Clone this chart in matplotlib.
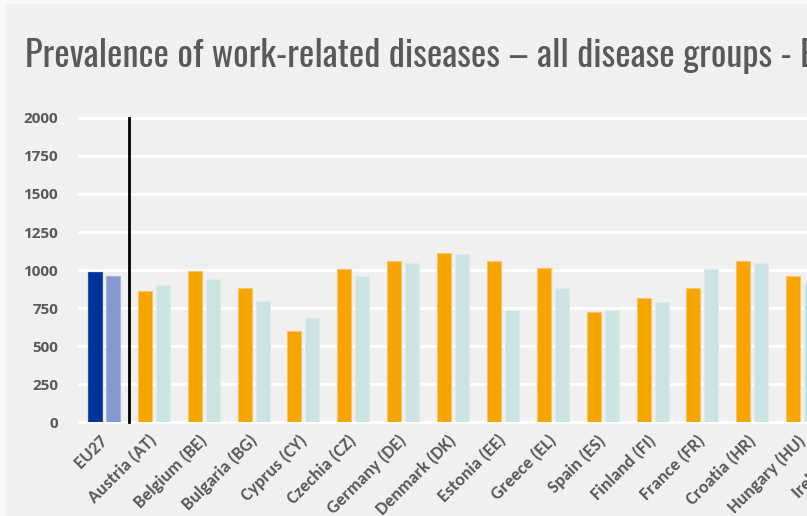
import numpy as np
import matplotlib.pyplot as plt
from matplotlib.patches import Rectangle
from matplotlib.transforms import ScaledTranslation

# data (cases per 100 000 workers, roughly)
pays = ["EU27", "Austria (AT)", "Belgium (BE)", "Bulgaria (BG)", "Cyprus (CY)",
        "Czechia (CZ)", "Germany (DE)", "Denmark (DK)", "Estonia (EE)", "Greece (EL)",
        "Spain (ES)", "Finland (FI)", "France (FR)", "Croatia (HR)", "Hungary (HU)",
        "Ireland (IE)"]
serie1 = [985, 864, 993, 882, 599, 1009, 1061, 1114, 1061, 1011, 726, 814, 882, 1061, 959, np.nan]
serie2 = [960, 900, 941, 796, 683, 960, 1044, 1105, 739, 880, 735, 788, 1009, 1044, 917, np.nan]
yticks = [0, 250, 500, 750, 1000, 1250, 1500, 1750, 2000]

fond = "#f0f0f0"
gris = "#595959"

fig = plt.figure(figsize=(8.07, 5.16), dpi=100)
fig.patch.set_facecolor(fond)
# bord clair en haut et a gauche de la capture
fig.patches.append(Rectangle((0, 1 - 3/516), 1, 3/516, transform=fig.transFigure,
                             color="#f8f8f8", zorder=0))
fig.patches.append(Rectangle((0, 0), 5/807, 1, transform=fig.transFigure,
                             color="#f8f8f8", zorder=0))

# axes wider than the figure: the right side is cut, like in the original screenshot
ax = fig.add_axes([79/807, 0.1816, 798/807, 0.590])
ax.set_facecolor(fond)

x = np.arange(len(pays))
w = 0.28
c1 = ["#003399"] + ["#f6a400"] * (len(pays) - 1)
c2 = ["#8399d1"] + ["#cce3e3"] * (len(pays) - 1)
e1 = ["#2a4fa8"] + ["#f9c56a"] * (len(pays) - 1)
e2 = ["#a3b4dd"] + ["#dcecec"] * (len(pays) - 1)
ax.bar(x - 0.18, serie1, w, color=c1, edgecolor=e1, linewidth=0.8, zorder=3)
ax.bar(x + 0.18, serie2, w, color=c2, edgecolor=e2, linewidth=0.8, zorder=3)

# separateur EU27 / pays
ax.plot([0.5, 0.5], [0, 2000], color="black", linewidth=2, zorder=4, clip_on=False)

ax.set_xlim(-0.5, len(pays) - 0.5)
ax.set_ylim(0, 2000)
ax.set_yticks(yticks)
ax.grid(axis="y", color="white", linewidth=2, zorder=0, clip_on=False)
ax.set_axisbelow(True)
for s in ax.spines.values():
    s.set_visible(False)
ax.tick_params(axis="y", length=0, pad=15, labelsize=11, labelcolor=gris)
ax.tick_params(axis="x", length=0, pad=7)
for lab in ax.get_yticklabels():
    lab.set_fontweight("bold")
    lab.set_fontfamily(["Open Sans", "DejaVu Sans"])

ax.set_xticks(x)
ax.set_xticklabels(pays, rotation=45, ha="right", va="top", rotation_mode="anchor",
                   fontsize=13, color=gris, fontweight="bold",
                   fontfamily=["Carlito", "Lato", "DejaVu Sans"])
# petit decalage a gauche des etiquettes
decal = ScaledTranslation(-5/100, 0, fig.dpi_scale_trans)
for lab in ax.get_xticklabels():
    lab.set_transform(lab.get_transform() + decal)

fig.text(25/807, 1 - 67/516, "Prevalence of work-related diseases \u2013 all disease groups - EU and Member States",
         fontsize=26.2, color=gris, va="baseline", ha="left",
         family=["Oswald", "Barlow Condensed", "DejaVu Sans"])

fig.savefig("out.png", dpi=100, facecolor=fond)
